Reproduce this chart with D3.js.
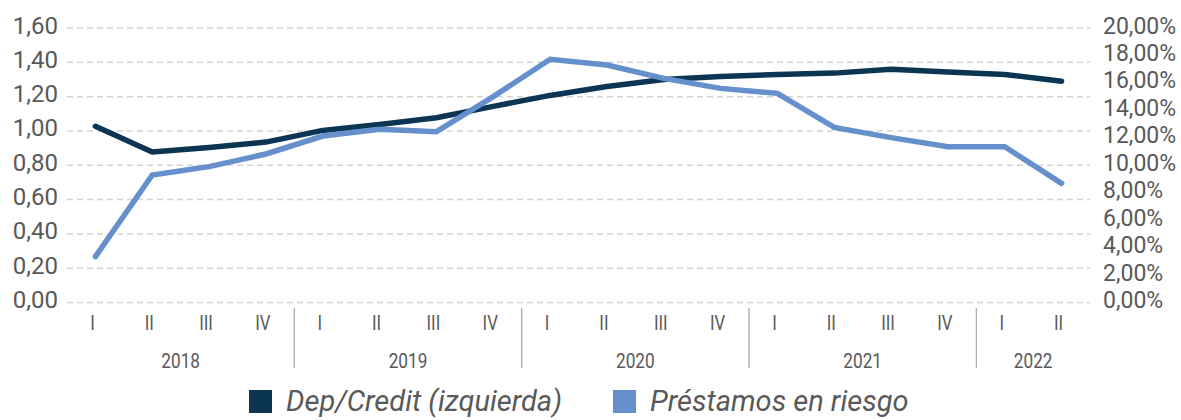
<!DOCTYPE html>
<html><head><meta charset="utf-8">
<script src="https://cdn.jsdelivr.net/npm/d3@7"></script>
<style>body{margin:0;background:#fff}svg{display:block}text{font-family:Roboto,"Noto Sans",sans-serif;fill:#595959}</style>
</head><body><svg id="c" width="1181" height="420"></svg>
<script>
const years = ["2018","2019","2020","2021","2022"];
const quarters = ["I","II","III","IV","I","II","III","IV","I","II","III","IV","I","II","III","IV","I","II"];
const quarterYear = [0,0,0,0,1,1,1,1,2,2,2,2,3,3,3,3,4,4];
const depCredit = [1.027,0.877,0.903,0.935,1.003,1.038,1.077,1.143,1.207,1.259,1.300,1.318,1.329,1.337,1.360,1.343,1.329,1.290];
const prestamos = [3.34,9.29,9.90,10.82,12.13,12.62,12.45,15.00,17.72,17.30,16.33,15.60,15.24,12.76,12.01,11.35,11.35,8.68];
const leftTicks = [0,0.2,0.4,0.6,0.8,1.0,1.2,1.4,1.6];
const rightTicks = [0,2,4,6,8,10,12,14,16,18,20];
const seriesNames = ["Dep/Credit (izquierda)","Préstamos en riesgo"];
const colors = ["#0c3554","#6690cb"];

const svg = d3.select("#c");
const x0 = 67, x1 = 1090, yTop = 28, yBot = 302.5;
const idx = d3.range(quarters.length);
const xb = d3.scaleBand().domain(idx).range([x0, x1]);
const xp = i => xb(i) + xb.bandwidth()/2;
const yL = d3.scaleLinear().domain([0,1.6]).range([yBot,yTop]);
const yR = d3.scaleLinear().domain([0,20]).range([yBot,yTop]);
const fmt2 = v => v.toFixed(2).replace(".", ",");

function squeeze(sel, r){ sel.each(function(){ const w=this.getComputedTextLength(); this.setAttribute("textLength", w*r); this.setAttribute("lengthAdjust","spacingAndGlyphs"); }); }

// gridlines
svg.append("g").selectAll("line").data(leftTicks).join("line")
  .attr("x1", x0).attr("x2", x1).attr("y1", d=>yL(d)).attr("y2", d=>yL(d))
  .attr("stroke", "#d4d4d4").attr("stroke-width", 1.5).attr("stroke-dasharray", "6,4");

// left labels
svg.append("g").selectAll("text").data(leftTicks).join("text")
  .attr("x", 58).attr("y", d=>yL(d)+5.5).attr("text-anchor","end").attr("font-size",24)
  .text(d=>fmt2(d));
// right labels
svg.append("g").selectAll("text").data(rightTicks).join("text")
  .attr("x", 1103).attr("y", d=>yR(d)+5.5).attr("text-anchor","start").attr("font-size",23)
  .text(d=>fmt2(d)+"%");

// quarter labels
const ql = svg.append("g").selectAll("text").data(idx).join("text")
  .attr("x", i=>xp(i)-3).attr("y", 330).attr("text-anchor","middle").attr("font-size",21)
  .text(i=>quarters[i]);
squeeze(ql, 0.8);

// year separators and labels
const yearIdx = years.map((y,k)=>idx.filter(i=>quarterYear[i]===k));
svg.append("g").selectAll("line").data(yearIdx.slice(1)).join("line")
  .attr("x1", g=>xb(g[0])).attr("x2", g=>xb(g[0])).attr("y1", 308).attr("y2", 368)
  .attr("stroke", "#a6a6a6").attr("stroke-width", 1.2);
const yl = svg.append("g").selectAll("text").data(yearIdx).join("text")
  .attr("x", g=>(xb(g[0]) + xb(g[g.length-1]) + xb.bandwidth())/2).attr("y", 368)
  .attr("text-anchor","middle").attr("font-size",21)
  .text((g,k)=>years[k]);
squeeze(yl, 0.82);

// lines
const line = (ys, arr) => d3.line().x((d,i)=>xp(i)).y(d=>ys(d))(arr);
svg.append("path").attr("d", line(yL, depCredit)).attr("fill","none")
  .attr("stroke", colors[0]).attr("stroke-width", 5.5).attr("stroke-linejoin","round").attr("stroke-linecap","round");
svg.append("path").attr("d", line(yR, prestamos)).attr("fill","none")
  .attr("stroke", colors[1]).attr("stroke-width", 5.5).attr("stroke-linejoin","miter").attr("stroke-linecap","round");

// legend
const lg = svg.append("g");
const lx = [249, 613];
seriesNames.forEach((n,k)=>{
  lg.append("rect").attr("x", lx[k]).attr("y", 390).attr("width", 23).attr("height", 23).attr("fill", colors[k]);
  lg.append("text").attr("x", lx[k]+37).attr("y", 411).attr("font-size", 29)
    .attr("font-style","italic").text(n);
});
</script></body></html>
